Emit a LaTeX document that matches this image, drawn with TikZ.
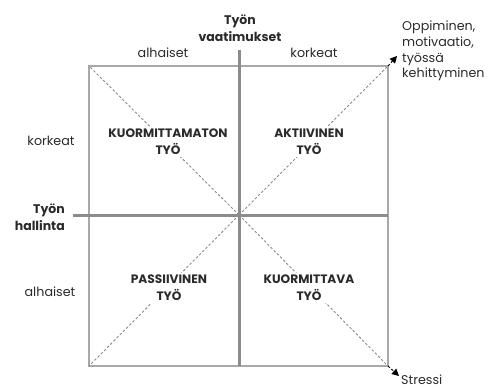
\documentclass[tikz,border=0pt]{standalone}
\usepackage{fontspec}
\setmainfont{Poppins}
\usetikzlibrary{arrows.meta}
\definecolor{ax}{HTML}{8C8C8C}
\definecolor{fr}{HTML}{A8A8A8}
\definecolor{dsh}{HTML}{8A8A8A}
\definecolor{txt}{HTML}{2A2A2A}
\begin{document}
\begin{tikzpicture}[x=1pt,y=-1pt,
  lbl/.style={font=\fontsize{12.7}{15.7}\selectfont, text=txt, inner sep=1pt},
  head/.style={font=\fontsize{12.5}{17}\selectfont\bfseries, text=txt, inner sep=1pt},
  quad/.style={font=\fontsize{12.2}{17}\selectfont\bfseries, align=center, fill=white, inner sep=2pt, text=txt},
  diag/.style={draw=dsh, dash pattern=on 2.5pt off 2pt, line width=0.9pt},
  thick axis/.style={draw=ax, line width=3pt},
  frame/.style={draw=fr, line width=1.5pt},
  tip/.style={-{Triangle[length=7pt,width=7pt]}, shorten >=0pt}]
\useasboundingbox (0,0) rectangle (489,389);
% corners and centre
\coordinate (c) at (239,215);
\coordinate (tl) at (89,66);
\coordinate (tr) at (388,66);
\coordinate (bl) at (89,366);
\coordinate (br) at (388,366);
\coordinate (trx) at (397,56);
\coordinate (brx) at (399,376);
\coordinate (vtop) at (239,50);
\coordinate (vbot) at (239,366);
\coordinate (hl) at (73,215);
\coordinate (hr) at (388,215);
% frame
\draw[frame] (tl) rectangle (br);
% diagonals
\draw[diag] (c) -- (tl);
\draw[diag] (c) -- (bl);
\draw[diag] (c) -- (tr);
\draw[diag] (c) -- (br);
\draw[diag, tip, black] (tr) -- (trx);
\draw[diag, tip, black] (br) -- (brx);
% axes
\draw[thick axis] (vtop) -- (vbot);
\draw[thick axis] (hl) -- (hr);
% quadrant labels
\node[quad] (q1) at (168,142) {KUORMITTAMATON\\TYÖ};
\node[quad] (q2) at (309,142) {AKTIIVINEN\\TYÖ};
\node[quad] (q3) at (169,288) {PASSIIVINEN\\TYÖ};
\node[quad] (q4) at (309,288) {KUORMITTAVA\\TYÖ};
% headings
\node[head, align=center] (vaat) at (240,28) {Työn\\vaatimukset};
\node[head, align=right, anchor=east] (hall) at (66,217) {Työn\\hallinta};
\node[lbl] (a1) at (163,53) {alhaiset};
\node[lbl] (k1) at (314,53) {korkeat};
\node[lbl] (k2) at (51,141) {korkeat};
\node[lbl] (a2) at (50,292) {alhaiset};
\node[lbl, align=left, anchor=north west] (opp) at (401,20) {Oppiminen,\\motivaatio,\\työssä\\kehittyminen};
\node[lbl, inner sep=0pt, anchor=base west] (str) at (401,384) {Stressi};
\end{tikzpicture}
\end{document}
